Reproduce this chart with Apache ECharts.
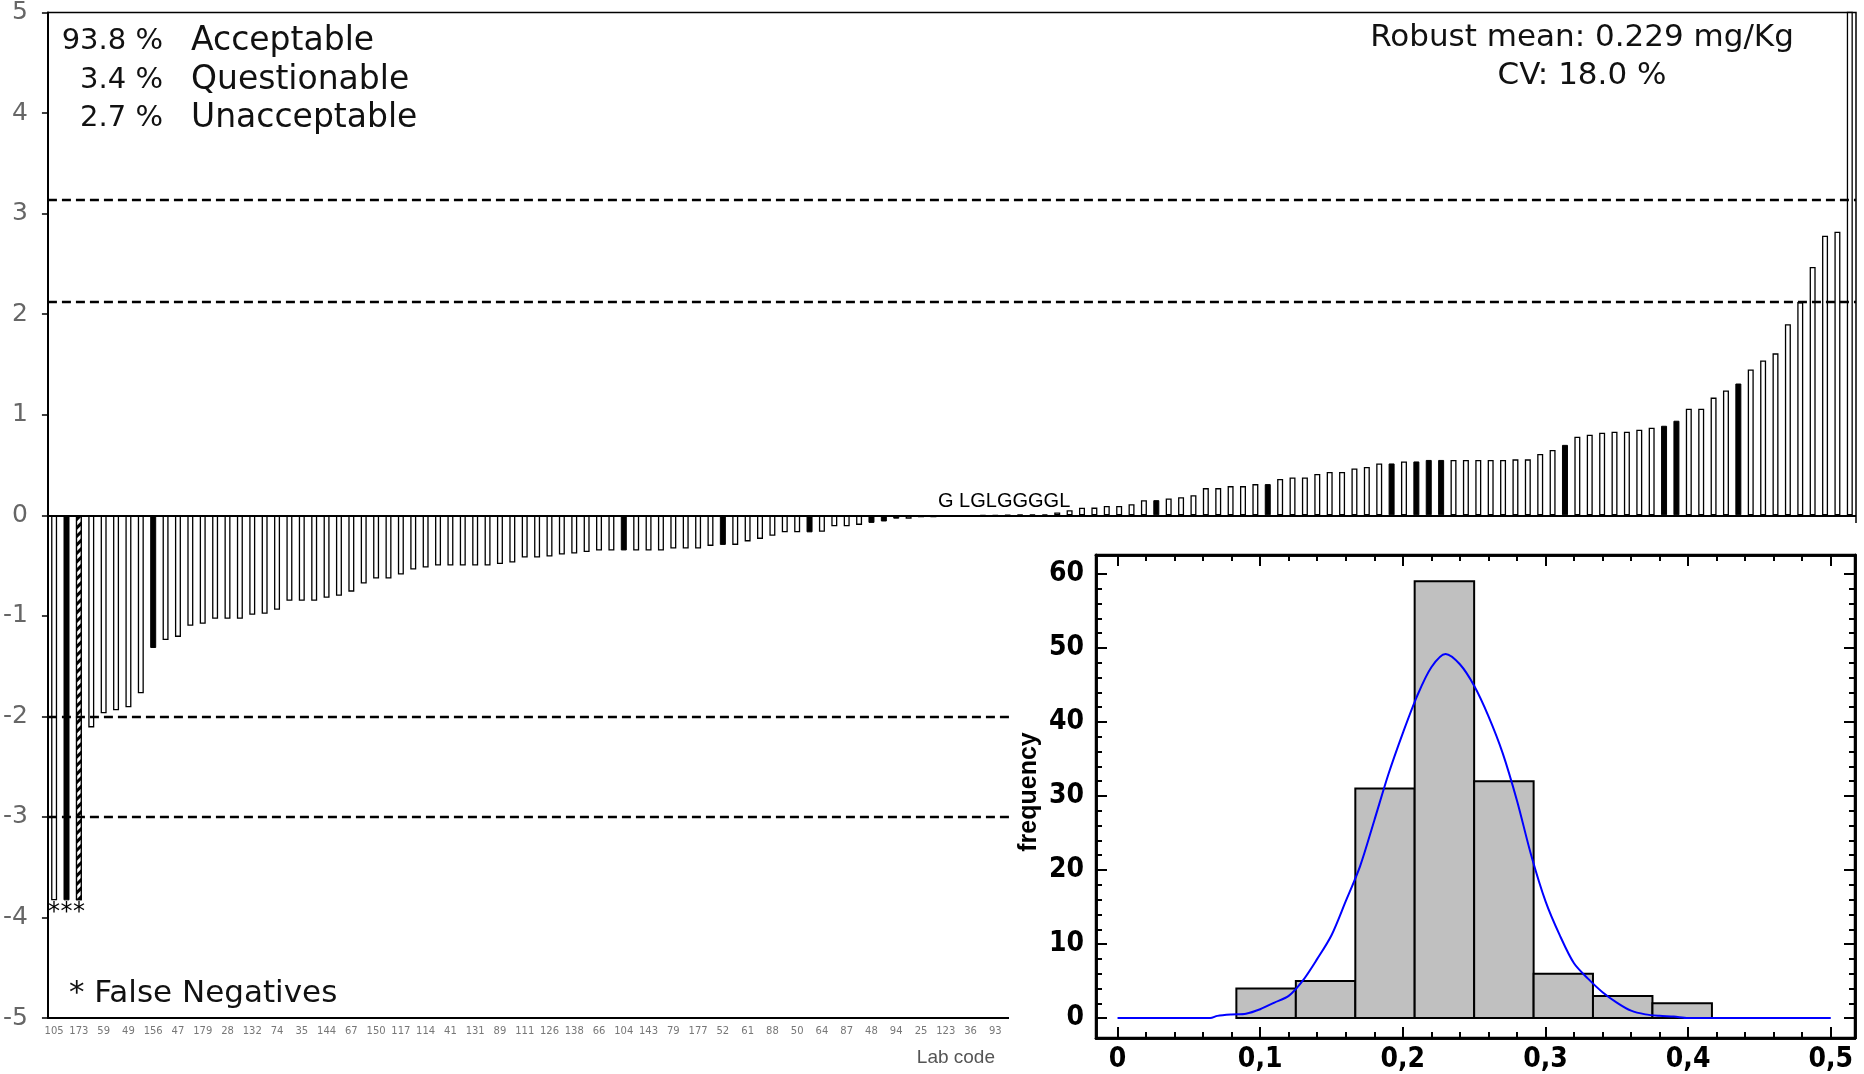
<!DOCTYPE html>
<html>
<head>
<meta charset="utf-8">
<script src="https://cdn.jsdelivr.net/npm/echarts@6/dist/echarts.min.js"></script>
<style>
  html, body { margin: 0; padding: 0; background: #fff; }
  #main { width: 1864px; height: 1074px; }
</style>
</head>
<body>
<div id="main"></div>
<script>
// z-scores, sorted, one bar per laboratory
const zScores = [
  -3.83, -3.83, -3.83, -2.11, -1.97, -1.94, -1.91, -1.77, -1.32, -1.24,
  -1.21, -1.10, -1.08, -1.03, -1.03, -1.03, -0.99, -0.98, -0.94, -0.85,
  -0.85, -0.85, -0.82, -0.80, -0.76, -0.68, -0.63, -0.63, -0.59, -0.54,
  -0.52, -0.50, -0.50, -0.50, -0.50, -0.50, -0.485, -0.47, -0.42, -0.42,
  -0.41, -0.39, -0.38, -0.365, -0.35, -0.35, -0.35, -0.35, -0.35, -0.35,
  -0.33, -0.33, -0.33, -0.305, -0.295, -0.295, -0.26, -0.235, -0.205, -0.17,
  -0.17, -0.17, -0.165, -0.11, -0.11, -0.096, -0.076, -0.062, -0.034, -0.034,
  -0.02, -0.02, -0.008, -0.008, -0.006, -0.005, -0.004, 0.004, 0.005, 0.006,
  0.008, 0.027, 0.05, 0.075, 0.076, 0.093, 0.093, 0.11, 0.15, 0.15,
  0.166, 0.18, 0.20, 0.27, 0.27, 0.29, 0.29, 0.31, 0.31, 0.36,
  0.375, 0.375, 0.41, 0.43, 0.43, 0.465, 0.48, 0.515, 0.515, 0.535,
  0.535, 0.55, 0.55, 0.55, 0.55, 0.55, 0.55, 0.55, 0.556, 0.556,
  0.61, 0.65, 0.70, 0.78, 0.80, 0.82, 0.83, 0.83, 0.85, 0.87,
  0.89, 0.94, 1.06, 1.06, 1.17, 1.24, 1.31, 1.45, 1.54, 1.61,
  1.90, 2.12, 2.47, 2.78, 2.82, 5.6
]
const blackBars = [1, 8, 46, 54, 61, 66, 67, 68, 89, 98, 108, 110, 111, 112, 122, 130, 131, 136]
const hatchedBars = [2]
const falseNegatives = [0, 1, 2]
// lab codes printed under every second bar
const labCodes = [
  '105', '173', '59', '49', '156', '47', '179', '28', '132', '74',
  '35', '144', '67', '150', '117', '114', '41', '131', '89', '111',
  '126', '138', '66', '104', '143', '79', '177', '52', '61', '88',
  '50', '64', '87', '48', '94', '25', '123', '36', '93'
]
const limitLines = [3.14, 2.12, -2, -3]
const zTicks = [5, 4, 3, 2, 1, 0, -1, -2, -3, -4, -5]

// histogram of results (mg/Kg)
const binStart = [0.0833, 0.125, 0.1667, 0.2083, 0.25, 0.2917, 0.3333, 0.375]
const binEnd = [0.125, 0.1667, 0.2083, 0.25, 0.2917, 0.3333, 0.375, 0.4167]
const binFreq = [4, 5, 31, 59, 32, 6, 3, 2]
const curveX = [0, 0.065, 0.07, 0.08, 0.09, 0.10, 0.11, 0.12, 0.13, 0.14, 0.15, 0.16, 0.17, 0.18, 0.19,
  0.20, 0.21, 0.22, 0.23, 0.24, 0.25, 0.26, 0.27, 0.28, 0.29, 0.30, 0.31, 0.32, 0.33, 0.34,
  0.35, 0.36, 0.37, 0.38, 0.39, 0.40, 0.50]
const curveY = [0, 0, 0.3, 0.5, 0.6, 1.2, 2.1, 3.0, 5.1, 8.0, 11.2, 15.8, 20.5, 26.7, 33.0,
  38.5, 43.5, 47.4, 49.2, 47.8, 44.9, 40.8, 35.8, 29.4, 22.0, 15.8, 11.2, 7.4, 5.3, 3.5,
  2.1, 1.0, 0.5, 0.3, 0.2, 0, 0]
const histXTicks = [0, 0.1, 0.2, 0.3, 0.4, 0.5]
const histXMinor = [0.02, 0.04, 0.06, 0.08, 0.12, 0.14, 0.16, 0.18, 0.22, 0.24, 0.26, 0.28,
  0.32, 0.34, 0.36, 0.38, 0.42, 0.44, 0.46, 0.48]
const histYTicks = [0, 10, 20, 30, 40, 50, 60]
const histYMinor = [2, 4, 6, 8, 12, 14, 16, 18, 22, 24, 26, 28, 32, 34, 36, 38, 42, 44, 46, 48, 52, 54, 56, 58]

const geo = 'DejaVu Sans'
const narrow = '"Liberation Sans Narrow", "DejaVu Sans Condensed", "Liberation Sans", sans-serif'
const big = '33px ' + geo
const num = '29px ' + geo

const barData = zScores.map((v, i) => {
  let itemStyle = { color: '#fff', borderColor: '#000', borderWidth: 1.3 }
  if (blackBars.includes(i)) itemStyle = { color: '#000', borderColor: '#000', borderWidth: 1 }
  if (hatchedBars.includes(i)) {
    itemStyle = {
      color: '#fff', borderColor: '#000', borderWidth: 1.3,
      decal: { symbol: 'rect', symbolSize: 1, color: '#000', backgroundColor: '#fff',
        dashArrayX: [1, 0], dashArrayY: [3, 3], rotation: -Math.PI / 4 }
    }
  }
  const item = { value: v, itemStyle }
  if (falseNegatives.includes(i)) {
    item.label = { show: true, position: 'bottom', distance: 0, formatter: '*',
      fontSize: 24, color: '#000', fontFamily: geo }
  }
  return item
})

// inset axis helper: one axis per side, major or minor ticks
function histAxis(dim, position, ticks, len, withLabel) {
  const isX = dim === 'x'
  const ax = {
    type: 'value',
    gridIndex: 1,
    position,
    min: isX ? -0.0151 : -2.69,
    max: isX ? 0.517 : 62.56,
    z: 12,
    axisLine: { show: true, onZero: false, lineStyle: { color: '#000', width: 2.5 } },
    axisTick: { show: true, inside: true, length: len, customValues: ticks,
      lineStyle: { color: '#000', width: 2 } },
    axisLabel: { show: false },
    splitLine: { show: false }
  }
  if (withLabel) {
    ax.axisLabel = {
      show: true, customValues: ticks,
      fontFamily: narrow, fontWeight: 'bold', fontSize: 28, color: '#000',
      margin: isX ? 8 : 12,
      formatter: v => (isX ? (v === 0 ? '0' : v.toFixed(1).replace('.', ',')) : String(Math.round(v)))
    }
  }
  return ax
}

const chart = echarts.init(document.getElementById('main'))
chart.setOption({
  animation: false,
  backgroundColor: '#fff',
  grid: [
    { left: 47, right: 8, top: 12, bottom: 56, show: true, borderColor: '#000', borderWidth: 1.5 },
    { left: 1096, right: 9, top: 555, bottom: 34, show: true, borderColor: '#000', borderWidth: 2.5, z: 11 }
  ],
  xAxis: [
    {
      type: 'category',
      gridIndex: 0,
      data: zScores.map((_, i) => String(i)),
      boundaryGap: true,
      axisLine: { onZero: false, lineStyle: { color: '#000', width: 2 } },
      axisTick: { show: false },
      axisLabel: {
        interval: 0, margin: 8, fontSize: 10, color: '#777', fontFamily: geo,
        formatter: (val, i) => (i % 2 === 0 && labCodes[i / 2] ? labCodes[i / 2] : '')
      }
    },
    histAxis('x', 'bottom', histXTicks, 11, true),
    histAxis('x', 'bottom', histXMinor, 6, false),
    histAxis('x', 'top', histXTicks, 11, false),
    histAxis('x', 'top', histXMinor, 6, false)
  ],
  yAxis: [
    {
      type: 'value',
      gridIndex: 0,
      min: -5, max: 5, interval: 1,
      axisLine: { show: true, lineStyle: { color: '#000', width: 2 } },
      axisTick: { show: true, length: 6, lineStyle: { color: '#000', width: 1.5 } },
      axisLabel: { margin: 20, fontSize: 25, color: '#666', fontFamily: geo,
        customValues: zTicks },
      splitLine: { show: false }
    },
    histAxis('y', 'left', histYTicks, 11, true),
    histAxis('y', 'left', histYMinor, 6, false),
    histAxis('y', 'right', histYTicks, 11, false),
    histAxis('y', 'right', histYMinor, 6, false)
  ],
  graphic: [
    // white panel behind the inset histogram
    { type: 'rect', z: 10, shape: { x: 1009, y: 523, width: 855, height: 551 }, style: { fill: '#fff' } },
    { type: 'text', z: 20, x: 163, y: 41, style: { text: '93.8 %', font: num, fill: '#111', align: 'right', verticalAlign: 'middle' } },
    { type: 'text', z: 20, x: 163, y: 80, style: { text: '3.4 %', font: num, fill: '#111', align: 'right', verticalAlign: 'middle' } },
    { type: 'text', z: 20, x: 163, y: 118, style: { text: '2.7 %', font: num, fill: '#111', align: 'right', verticalAlign: 'middle' } },
    { type: 'text', z: 20, x: 191, y: 41, style: { text: 'Acceptable', font: big, fill: '#111', verticalAlign: 'middle' } },
    { type: 'text', z: 20, x: 191, y: 80, style: { text: 'Questionable', font: big, fill: '#111', verticalAlign: 'middle' } },
    { type: 'text', z: 20, x: 191, y: 118, style: { text: 'Unacceptable', font: big, fill: '#111', verticalAlign: 'middle' } },
    { type: 'text', z: 20, x: 1582, y: 38, style: { text: 'Robust mean: 0.229 mg/Kg', font: '31px ' + geo, fill: '#111', align: 'center', verticalAlign: 'middle' } },
    { type: 'text', z: 20, x: 1582, y: 76, style: { text: 'CV: 18.0 %', font: '31px ' + geo, fill: '#111', align: 'center', verticalAlign: 'middle' } },
    { type: 'text', z: 20, x: 69, y: 994, style: { text: '* False Negatives', font: '31px ' + geo, fill: '#111', verticalAlign: 'middle' } },
    { type: 'text', z: 20, x: 938, y: 501, style: { text: 'G LGLGGGGL', font: '20px "Liberation Sans", Arial, sans-serif', fill: '#000', verticalAlign: 'middle' } },
    { type: 'text', z: 20, x: 995, y: 1058, style: { text: 'Lab code', font: '19px "Liberation Sans", Arial, sans-serif', fill: '#555', align: 'right', verticalAlign: 'middle' } },
    { type: 'text', z: 20, x: 1029, y: 792, rotation: Math.PI / 2, style: { text: 'frequency', font: 'bold 25px "Liberation Sans", Arial, sans-serif', fill: '#000', align: 'center', verticalAlign: 'middle' } }
  ],
  series: [
    {
      type: 'bar',
      xAxisIndex: 0,
      yAxisIndex: 0,
      barWidth: 6,
      clip: true,
      data: barData,
      markLine: {
        silent: true,
        symbol: 'none',
        label: { show: false },
        data: [
          { yAxis: 0, lineStyle: { type: 'solid', color: '#000', width: 2 } },
          ...limitLines.map(y => ({ yAxis: y, lineStyle: { type: [9, 5], color: '#000', width: 2.4 } }))
        ]
      }
    },
    {
      type: 'custom',
      xAxisIndex: 1,
      yAxisIndex: 1,
      z: 11,
      data: binFreq.map((f, i) => [binStart[i], binEnd[i], f]),
      renderItem: (params, api) => {
        const p0 = api.coord([api.value(0), 0])
        const p1 = api.coord([api.value(1), api.value(2)])
        return {
          type: 'rect',
          shape: { x: p0[0], y: p1[1], width: p1[0] - p0[0], height: p0[1] - p1[1] },
          style: { fill: '#c0c0c0', stroke: '#000', lineWidth: 2 }
        }
      }
    },
    {
      type: 'line',
      xAxisIndex: 1,
      yAxisIndex: 1,
      z: 12,
      smooth: 0.3,
      symbol: 'none',
      lineStyle: { color: '#0000ff', width: 2 },
      data: curveX.map((x, i) => [x, curveY[i]])
    }
  ]
})
</script>
</body>
</html>
